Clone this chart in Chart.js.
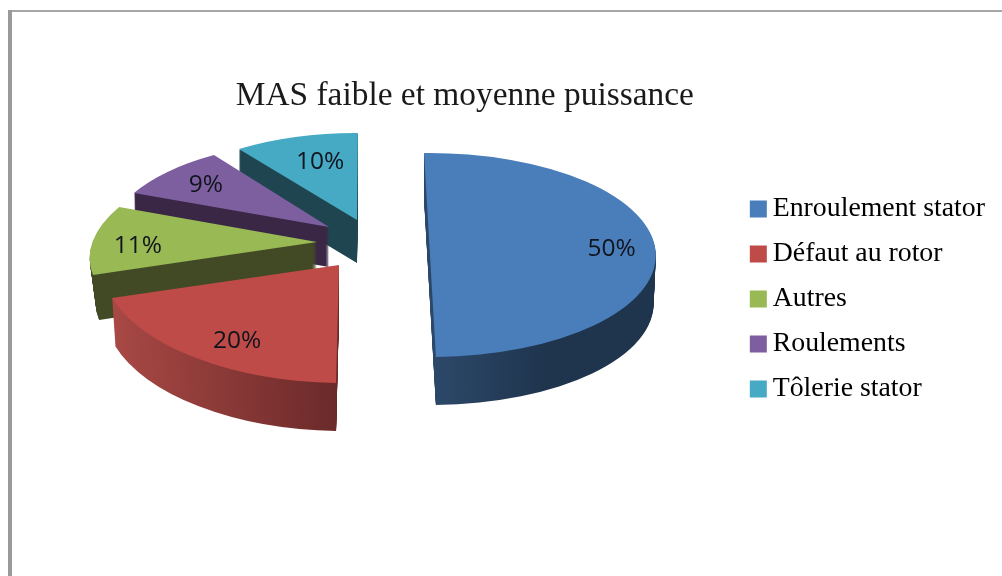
<!DOCTYPE html>
<html><head><meta charset="utf-8">
<style>html,body{margin:0;padding:0;background:#fff}canvas{display:block;filter:blur(0.5px)}</style>
<script src="https://cdn.jsdelivr.net/npm/chart.js@4"></script></head>
<body><canvas id="c" width="1002" height="576"></canvas>
<script>
const categories=["Enroulement stator","Défaut au rotor","Autres","Roulements","Tôlerie stator"];
const shares=[50,20,11,9,10];
const titleText="MAS faible et moyenne puissance";
const topColors=["#4A7EBB","#BE4B48","#98B954","#7D5FA0","#46AAC4"];
// wall shading: [left, right] colours of the extruded side
const wallColors=[["#2C4869","#1F344D"],["#AC4A46","#6B2A2A"],["#424A25","#424A25"],["#3A2745","#3A2745"],["#1F4650","#1F4650"]];
// 3D look: each exploded slice has its own perspective warp (a,b,c,d), apex, wall depth and wall taper
const sliceWarp=[[.99,.026,-.01,.447],[1.043,-.013,.016,.5175],[.988,-.138,-.009,.44],[.945,-.063,.008,.384],[.887,-.004,.004,.382]];
const sliceApex=[[430,255],[339,265],[317,242],[329,227],[357,220]];
const sliceDepth=[48,48,45,40,43];
const sliceTaper=[.0002,.0003,.0006,.0001,0];
const labelRadius=[.8,.78,.79,.7,.6];
const labelNudge=[[1,-4],[9,3],[-2,5],[-10,-3],[0,-8]];
const drawOrder=[4,3,2,1,0];
const PIE_R=228;

function applyWarp(ctx,arc,i){
  const [a,b,c,d]=sliceWarp[i],[ax,ay]=sliceApex[i];
  ctx.transform(a,c,b,d,ax-(a*arc.x+b*arc.y),ay-(c*arc.x+d*arc.y));
}
const pie3d={
  id:'pie3d',
  beforeDraw(chart){
    const ctx=chart.ctx;ctx.save();
    ctx.fillStyle='#A6A6A6';ctx.fillRect(8,10,994,2);
    ctx.fillStyle='#9A9A9A';ctx.fillRect(8,10,4,566);
    ctx.restore();
  },
  beforeDatasetDraw(){return false;},
  afterDatasetsDraw(chart){
    const ctx=chart.ctx,arcs=chart.getDatasetMeta(0).data;
    drawOrder.forEach(i=>{
      const arc=arcs[i],opts=arc.options,[ax,ay]=sliceApex[i];
      for(let k=sliceDepth[i];k>=1;k--){
        ctx.save();ctx.translate(ax,ay+k);ctx.scale(1-k*sliceTaper[i],1);ctx.translate(-ax,-ay);applyWarp(ctx,arc,i);
        const g=ctx.createLinearGradient(i===1?arc.x-PIE_R:arc.x,0,i===1?arc.x:arc.x+PIE_R*.5,0);
        g.addColorStop(0,wallColors[i][0]);g.addColorStop(1,wallColors[i][1]);
        arc.options=Object.assign({},opts,{backgroundColor:g,borderColor:g});
        arc.draw(ctx);ctx.restore();
      }
      arc.options=opts;
      ctx.save();applyWarp(ctx,arc,i);arc.draw(ctx);ctx.restore();
    });
    ctx.save();
    ctx.font='24.5px "Open Sans"';ctx.textAlign='center';ctx.textBaseline='middle';ctx.fillStyle='#10141c';
    arcs.forEach((arc,i)=>{
      const m=(arc.startAngle+arc.endAngle)/2,r=PIE_R*labelRadius[i];
      const lx=Math.cos(m)*r,ly=Math.sin(m)*r,[a,b,c,d]=sliceWarp[i],[ax,ay]=sliceApex[i];
      ctx.fillText(shares[i]+'%',ax+a*lx+b*ly+labelNudge[i][0],ay+c*lx+d*ly+labelNudge[i][1]);
    });
    ctx.restore();
  }
};
new Chart(document.getElementById('c'),{
  type:'pie',
  data:{labels:categories,datasets:[{data:shares,backgroundColor:topColors,borderWidth:0,radius:PIE_R}]},
  options:{
    responsive:false,animation:false,events:[],
    layout:{padding:{left:189,right:7,top:22,bottom:0}},
    plugins:{
      tooltip:{enabled:false},
      title:{display:true,text:titleText,fullSize:false,color:'#1a1a1a',
        font:{family:'"Liberation Serif"',size:33.4,weight:'normal'},padding:{top:54,bottom:10}},
      legend:{position:'right',labels:{
        font:{family:'"Liberation Serif"',size:27.8},color:'#1a1a1a',boxWidth:1,boxHeight:1,padding:17.2,
        generateLabels(){return categories.map((t,i)=>({text:t,fillStyle:topColors[i],strokeStyle:topColors[i],lineWidth:16,hidden:false,index:i}));}
      }}
    }
  },
  plugins:[pie3d]
});
</script></body></html>
